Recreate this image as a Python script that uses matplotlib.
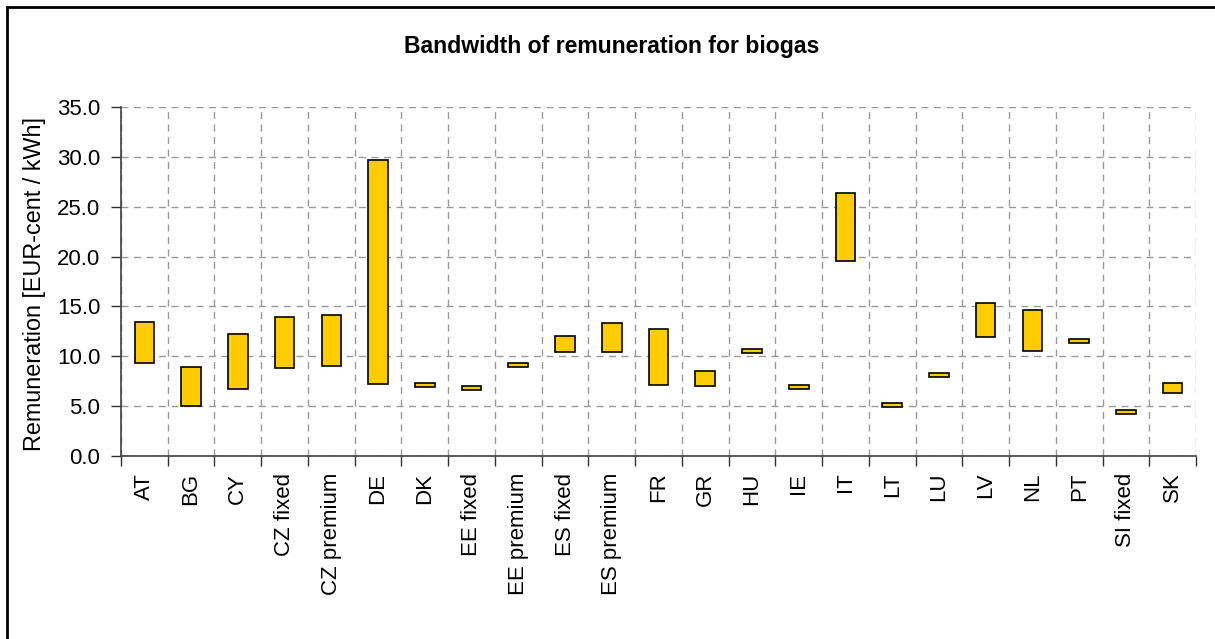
#!/usr/bin/env python3
import matplotlib.pyplot as plt
import numpy as np

plt.rcParams['font.family'] = ['Liberation Sans', 'DejaVu Sans']

countries = ["AT", "BG", "CY", "CZ fixed", "CZ premium", "DE", "DK", "EE fixed",
             "EE premium", "ES fixed", "ES premium", "FR", "GR", "HU", "IE", "IT",
             "LT", "LU", "LV", "NL", "PT", "SI fixed", "SK"]
low = [9.3, 5.0, 6.7, 8.8, 9.0, 7.2, 6.9, 6.6,
       8.9, 10.4, 10.4, 7.1, 7.0, 10.3, 6.7, 19.6,
       4.9, 7.9, 11.9, 10.5, 11.3, 4.2, 6.3]
high = [13.4, 8.9, 12.2, 13.9, 14.1, 29.7, 7.3, 7.0,
        9.3, 12.0, 13.3, 12.7, 8.5, 10.7, 7.1, 26.4,
        5.3, 8.3, 15.3, 14.6, 11.7, 4.6, 7.3]

fig = plt.figure(figsize=(12.15, 6.39), dpi=100)
ax = fig.add_axes([121/1215, 1 - 456/639, (1196 - 121)/1215, (456 - 107)/639])

# outer chart frame (right and bottom edges fall outside the picture)
fig.patches.append(plt.Rectangle((7/1215, -0.05), 1.1, 1 - 7/639 + 0.05,
                                 transform=fig.transFigure, fill=False,
                                 edgecolor="black", linewidth=2))

x = np.arange(len(countries))
heights = [h - l for h, l in zip(high, low)]
ax.bar(x, heights, bottom=low, width=0.42, color="#FFCC00",
       edgecolor="black", linewidth=1.2, zorder=3)

ax.set_xlim(-0.5, len(countries) - 0.5)
ax.set_ylim(0, 35)
yt = np.arange(0, 35.1, 5)
ax.set_yticks(yt)
ax.set_yticklabels([f"{v:.1f}" for v in yt])

# ticks at category borders, labels in the middle
ax.set_xticks(np.arange(-0.5, len(countries), 1))
ax.set_xticklabels([])
ax.set_xticks(x, minor=True)
ax.set_xticklabels(countries, minor=True, rotation=90)
ax.tick_params(axis="x", which="minor", length=0, pad=12, labelsize=16)
ax.tick_params(axis="x", which="major", length=7, width=1, color="#333333", direction="out")
ax.tick_params(axis="y", length=7, width=1, color="#333333", labelsize=16, pad=8)

ax.grid(True, which="major", color="#999999", linestyle=(0, (5, 4)), linewidth=1, zorder=0)
for s in ["top", "right"]:
    ax.spines[s].set_visible(False)
for s in ["left", "bottom"]:
    ax.spines[s].set_color("#404040")
    ax.spines[s].set_linewidth(1.2)

fig.text(35/1215, 1 - 284/639, "Remuneration [EUR-cent / kWh]", rotation=90,
         ha="center", va="center", fontsize=16.8)
fig.text(612/1215, 1 - 53/639, "Bandwidth of remuneration for biogas",
         ha="center", va="baseline", fontsize=16.6, fontweight="bold")

plt.savefig("out.png", dpi=100)
